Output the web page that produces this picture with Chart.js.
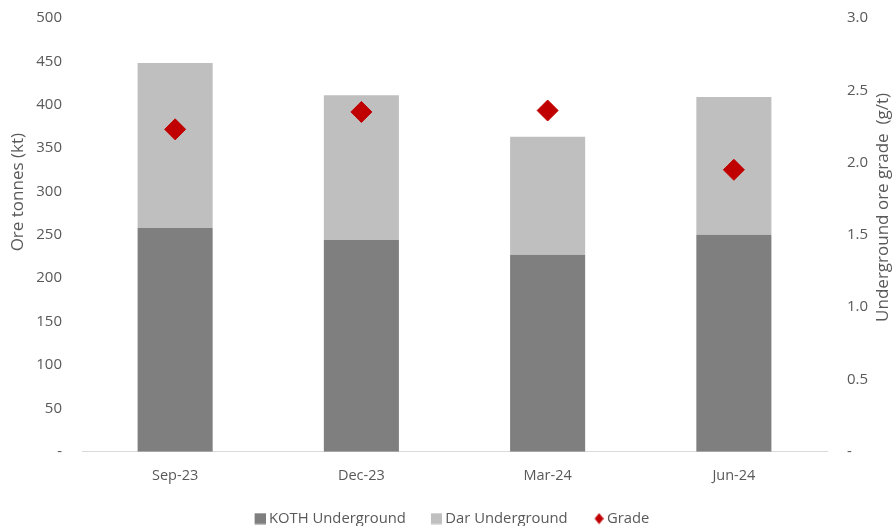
<!DOCTYPE html>
<html>
<head>
<meta charset="utf-8">
<script src="https://cdn.jsdelivr.net/npm/chart.js@4"></script>
<style>
  html, body { margin: 0; padding: 0; background: #fff; }
  #wrap { width: 893px; height: 528px; }
</style>
</head>
<body>
<div id="wrap"><canvas id="c" width="893" height="528"></canvas></div>
<script>
// Quarterly underground ore tonnes by mine and average grade
const quarters = ['Sep-23', 'Dec-23', 'Mar-24', 'Jun-24'];
const kothTonnes = [258, 244, 227, 250];
const darTonnes = [190, 167, 136, 159];
const gradeValues = [2.23, 2.35, 2.36, 1.95];
const tonneTicks = [0, 50, 100, 150, 200, 250, 300, 350, 400, 450, 500];
const gradeTicks = [0, 0.5, 1.0, 1.5, 2.0, 2.5, 3.0];

const FONT = 'Open Sans';
const TEXT = '#595959';
const KOTH_COLOR = '#7f7f7f';
const DAR_COLOR = '#bfbfbf';
const GRADE_COLOR = '#c00000';

// legend markers: the glyph sits at the right end of a wider transparent strip,
// which spaces the items apart and keeps the glyph close to its text
const MARK_W = 31;      // slot reserved for each marker
const MARK_OVER = 4;    // how far the glyph reaches past the slot, toward the text
function legendMarker(kind, color) {
  const c = document.createElement('canvas');
  c.width = MARK_W + 2 * MARK_OVER;
  c.height = 12;
  const g = c.getContext('2d');
  g.fillStyle = color;
  const r = c.width;
  if (kind === 'square') {
    g.fillRect(r - 11, 0.5, 11, 11);
  } else {
    g.beginPath();
    g.moveTo(r - 4.5, 0.5);
    g.lineTo(r, 6);
    g.lineTo(r - 4.5, 11.5);
    g.lineTo(r - 9, 6);
    g.closePath();
    g.fill();
  }
  return c;
}
const legendMarks = {
  'KOTH Underground': legendMarker('square', KOTH_COLOR),
  'Dar Underground': legendMarker('square', DAR_COLOR),
  'Grade': legendMarker('diamond', GRADE_COLOR)
};

// keep the legend band tight around its single row of items
const tightLegend = {
  id: 'tightLegend',
  afterInit(chart) {
    const legend = chart.legend;
    if (!legend || legend._tight) return;
    const fit = legend.fit;
    legend.fit = function () {
      fit.call(this);
      if (this.isHorizontal()) this.height = Math.max(this.height - 10, 0);
    };
    legend._tight = true;
  }
};

// axis titles placed along the left and right edges
const axisTitles = {
  id: 'axisTitles',
  afterDraw(chart) {
    const ctx = chart.ctx;
    const draw = (text, x, yEnd) => {
      ctx.save();
      ctx.fillStyle = TEXT;
      ctx.font = '17px "' + FONT + '"';
      ctx.textAlign = 'right';
      ctx.textBaseline = 'middle';
      ctx.translate(x, yEnd);
      ctx.rotate(-Math.PI / 2);
      ctx.fillText(text, 0, 0);
      ctx.restore();
    };
    draw('Ore tonnes (kt)', 18, 133);
    draw('Underground ore grade  (g/t)', 883, 93);
  }
};

// value axes: fixed band width, no extra vertical padding from the tick gap
const fitValueAxis = width => s => {
  s.width = width;
  s.paddingTop = 0;
  s.paddingBottom = 0;
};

new Chart(document.getElementById('c'), {
  type: 'bar',
  data: {
    labels: quarters,
    datasets: [
      {
        label: 'KOTH Underground',
        data: kothTonnes,
        backgroundColor: KOTH_COLOR,
        borderWidth: 0,
        yAxisID: 'y',
        stack: 'ore',
        order: 1
      },
      {
        label: 'Dar Underground',
        data: darTonnes,
        backgroundColor: DAR_COLOR,
        borderWidth: 0,
        yAxisID: 'y',
        stack: 'ore',
        order: 1
      },
      {
        type: 'line',
        label: 'Grade',
        data: gradeValues,
        yAxisID: 'y1',
        showLine: false,
        pointStyle: 'rectRot',
        pointRadius: 10.5,
        pointHoverRadius: 10.5,
        backgroundColor: GRADE_COLOR,
        borderColor: GRADE_COLOR,
        pointBorderWidth: 1,
        order: 0
      }
    ]
  },
  options: {
    responsive: false,
    animation: false,
    layout: { padding: { top: 18, left: 0, right: 13, bottom: 2 } },
    datasets: { bar: { categoryPercentage: 1, barPercentage: 0.403 } },
    plugins: {
      tooltip: { enabled: false },
      legend: {
        position: 'bottom',
        labels: {
          usePointStyle: true,
          pointStyleWidth: MARK_W,
          boxHeight: 11,
          padding: 1,
          color: TEXT,
          font: { family: FONT, size: 14.8 },
          sort: (a, b) => a.datasetIndex - b.datasetIndex,
          generateLabels(chart) {
            const items = Chart.defaults.plugins.legend.labels.generateLabels(chart);
            items.forEach(it => {
              it.pointStyle = legendMarks[it.text];
              it.lineWidth = 0;
            });
            return items;
          }
        }
      }
    },
    scales: {
      x: {
        stacked: true,
        grid: { display: false, drawTicks: false },
        border: { display: true, color: '#d9d9d9', width: 1 },
        ticks: { color: TEXT, font: { family: FONT, size: 14.5 }, padding: 15 },
        afterFit(s) { s.height = 58.5; }
      },
      y: {
        stacked: true,
        position: 'left',
        min: 0,
        max: 500,
        afterBuildTicks(s) { s.ticks = tonneTicks.map(v => ({ value: v })); },
        grid: { display: false, drawTicks: false },
        border: { display: false },
        ticks: {
          color: TEXT,
          font: { family: FONT, size: 15 },
          padding: 20,
          callback: v => (v === 0 ? '-' : String(v))
        },
        afterFit: fitValueAxis(82)
      },
      y1: {
        position: 'right',
        min: 0,
        max: 3,
        afterBuildTicks(s) { s.ticks = gradeTicks.map(v => ({ value: v })); },
        grid: { display: false, drawTicks: false },
        border: { display: false },
        ticks: {
          color: TEXT,
          font: { family: FONT, size: 15 },
          padding: 20,
          callback: v => (v === 0 ? '-' : Number(v).toFixed(1))
        },
        afterFit: fitValueAxis(53)
      }
    }
  },
  plugins: [tightLegend, axisTitles]
});
</script>
</body>
</html>
